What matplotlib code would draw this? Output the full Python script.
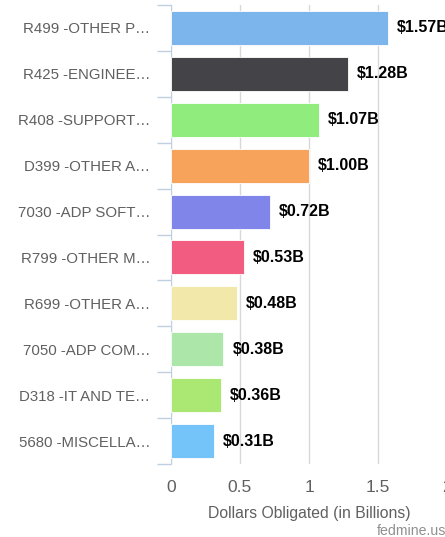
import matplotlib.pyplot as plt

plt.rcParams['font.family'] = ['Liberation Sans', 'DejaVu Sans']

# data
categories = ['R499 -OTHER P…', 'R425 -ENGINEE…', 'R408 -SUPPORT…', 'D399 -OTHER A…',
              '7030 -ADP SOFT…', 'R799 -OTHER M…', 'R699 -OTHER A…', '7050 -ADP COM…',
              'D318 -IT AND TE…', '5680 -MISCELLA…']
values = [1.57, 1.28, 1.07, 1.00, 0.72, 0.53, 0.48, 0.38, 0.36, 0.31]
colors = ['#7cb5ec', '#434348', '#90ed7d', '#f7a35c', '#8085e9',
          '#f15c80', '#f2e8aa', '#ace6a8', '#aae873', '#74c3f9']
xticks = [0, 0.5, 1, 1.5, 2]
xticklabels = ['0', '0.5', '1', '1.5', '2']

W, H = 445, 537
fig = plt.figure(figsize=(W / 100, H / 100), dpi=100)
ax = fig.add_axes([171 / W, 1 - 464 / H, 276 / W, (464 - 5) / H])

pos = list(range(len(values)))
ax.barh(pos, values, height=0.74, color=colors, edgecolor='white', linewidth=0.6, zorder=3)
for p, v in zip(pos, values):
    ax.text(v + 0.065, p, '$%.2fB' % v, va='center', ha='left',
            fontsize=11.5, fontweight='bold', color='black', zorder=4)

ax.set_ylim(len(values) - 0.5, -0.5)
ax.set_xlim(0, 2)
ax.set_yticks(pos)
ax.set_yticklabels(categories, fontsize=10.8, color='#606060')
ax.tick_params(axis='y', length=0, pad=15)
# category boundary ticks
ax.set_yticks([p - 0.5 for p in range(len(values) + 1)], minor=True)
ax.tick_params(axis='y', which='minor', length=10, color='#c0d0e0', width=1)

ax.set_xticks(xticks)
ax.set_xticklabels(xticklabels, fontsize=12.5, color='#606060')
ax.tick_params(axis='x', length=0, pad=11.5)
ax.grid(axis='x', color='#d8d8d8', linewidth=1, zorder=0)

for s in ['top', 'right', 'bottom']:
    ax.spines[s].set_visible(False)
ax.spines['left'].set_color('#c0d0e0')

ax.set_xlabel('Dollars Obligated (in Billions)', fontsize=11.3, color='#606060', labelpad=8)
fig.text(446 / W, 1 - 531 / H, 'fedmine.us', fontsize=10.2, color='#909090', ha='right', va='center')

fig.savefig('out.png', dpi=100)
